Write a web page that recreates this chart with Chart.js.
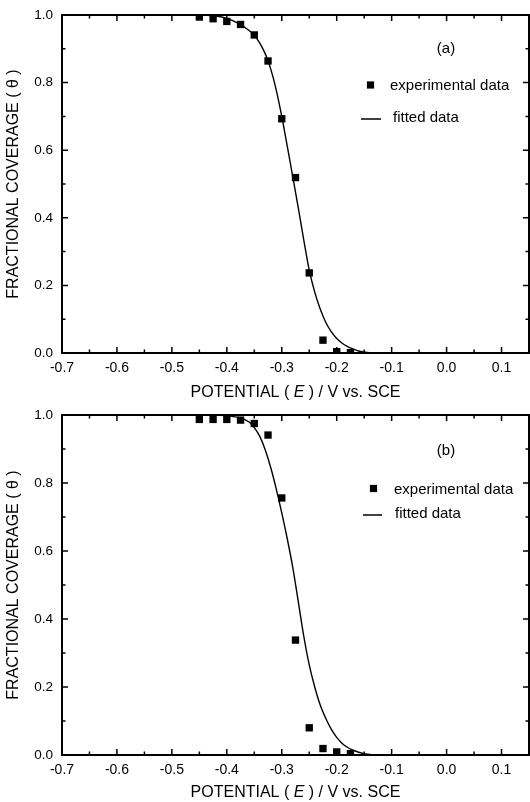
<!DOCTYPE html>
<html>
<head>
<meta charset="utf-8">
<script src="https://cdn.jsdelivr.net/npm/chart.js@4.4.1/dist/chart.umd.min.js"></script>
<style>
  html, body { margin: 0; padding: 0; background: #fff; }
  canvas { display: block; }
</style>
</head>
<body>
<canvas id="chartA" width="530" height="400"></canvas>
<canvas id="chartB" width="530" height="402"></canvas>
<script>
// axis ticks
const potentialTicks = [-0.7, -0.6, -0.5, -0.4, -0.3, -0.2, -0.1, 0.0, 0.1];
const potentialMinor = [-0.65, -0.55, -0.45, -0.35, -0.25, -0.15, -0.05, 0.05];
const coverageTicks = [0, 0.2, 0.4, 0.6, 0.8, 1.0];
const coverageMinor = [0.1, 0.3, 0.5, 0.7, 0.9];

// panel (a)
const aExpX = [-0.45, -0.425, -0.4, -0.375, -0.35, -0.325, -0.3, -0.275, -0.25, -0.225, -0.2, -0.175];
const aExpY = [0.994, 0.989, 0.981, 0.972, 0.941, 0.864, 0.693, 0.519, 0.237, 0.038, 0.004, 0.001];
const aFitX = [-0.70, -0.50, -0.44, -0.42, -0.40, -0.38, -0.36, -0.35, -0.34, -0.33, -0.32, -0.31, -0.30,
               -0.29, -0.28, -0.27, -0.26, -0.25, -0.24, -0.23, -0.22, -0.21, -0.20, -0.19, -0.18,
               -0.17, -0.16, -0.15, -0.14, -0.13, -0.10, 0.15];
const aFitY = [1.0, 1.0, 0.999, 0.997, 0.99, 0.976, 0.955, 0.94, 0.917, 0.885, 0.84, 0.778, 0.7,
               0.612, 0.522, 0.43, 0.335, 0.245, 0.18, 0.13, 0.091, 0.063, 0.043, 0.029, 0.019,
               0.012, 0.006, 0.003, 0.001, 0.0, 0.0, 0.0];

// panel (b)
const bExpX = [-0.45, -0.425, -0.4, -0.375, -0.35, -0.325, -0.3, -0.275, -0.25, -0.225, -0.2, -0.175];
const bExpY = [0.987, 0.987, 0.987, 0.985, 0.975, 0.941, 0.756, 0.338, 0.08, 0.019, 0.009, 0.004];
const bFitX = [-0.70, -0.50, -0.42, -0.40, -0.38, -0.36, -0.35, -0.34, -0.33, -0.32, -0.31, -0.30,
               -0.29, -0.28, -0.27, -0.26, -0.25, -0.24, -0.23, -0.22, -0.21, -0.20, -0.19, -0.18,
               -0.17, -0.16, -0.15, -0.14, -0.13, -0.10, 0.15];
const bFitY = [1.0, 1.0, 1.0, 0.998, 0.993, 0.98, 0.963, 0.937, 0.897, 0.845, 0.782, 0.712,
               0.636, 0.552, 0.452, 0.35, 0.265, 0.2, 0.147, 0.108, 0.076, 0.052, 0.034, 0.022,
               0.014, 0.008, 0.004, 0.002, 0.0, 0.0, 0.0];

const FONT = "'Liberation Sans', Arial, Helvetica, sans-serif";

const toPoints = (xs, ys) => xs.map((x, i) => ({ x: x, y: ys[i] }));

// frame, inward ticks on all 4 sides, x title with italic E, legend and panel label
const framePlugin = {
    id: 'frameBox',
    afterDraw(chart, args, o) {
        const { ctx, chartArea: a } = chart;
        const sx = chart.scales.x, sy = chart.scales.y;
        ctx.save();
        ctx.strokeStyle = '#000';
        ctx.fillStyle = '#000';
        ctx.lineWidth = 2;
        ctx.strokeRect(a.left, a.top, a.right - a.left, a.bottom - a.top);

        ctx.lineWidth = 1.5;
        ctx.beginPath();
        const tickX = (v, len) => {
            const p = sx.getPixelForValue(v);
            ctx.moveTo(p, a.bottom); ctx.lineTo(p, a.bottom - len);
            ctx.moveTo(p, a.top); ctx.lineTo(p, a.top + len);
        };
        const tickY = (v, len) => {
            const p = sy.getPixelForValue(v);
            ctx.moveTo(a.left, p); ctx.lineTo(a.left + len, p);
            ctx.moveTo(a.right, p); ctx.lineTo(a.right - len, p);
        };
        potentialTicks.forEach(v => tickX(v, 6));
        potentialMinor.forEach(v => tickX(v, 3.5));
        coverageTicks.forEach(v => tickY(v, 6));
        coverageMinor.forEach(v => tickY(v, 3.5));
        ctx.stroke();

        // x axis title, E in italics
        const parts = [['POTENTIAL ( ', ''], ['E', 'italic '], [' ) / V vs. SCE', '']];
        let total = 0;
        parts.forEach(p => { ctx.font = p[1] + '16px ' + FONT; total += ctx.measureText(p[0]).width; });
        let tx = (a.left + a.right) / 2 - total / 2;
        ctx.textBaseline = 'middle';
        ctx.textAlign = 'left';
        parts.forEach(p => {
            ctx.font = p[1] + '16px ' + FONT;
            ctx.fillText(p[0], tx, o.titleY);
            tx += ctx.measureText(p[0]).width;
        });

        // panel label
        ctx.font = '15px ' + FONT;
        ctx.textAlign = 'center';
        ctx.fillText(o.panel, o.panelX, o.panelY);

        // legend
        ctx.textAlign = 'left';
        const s = 3.6;
        ctx.fillRect(o.sqX - s, o.sqY - s, 2 * s, 2 * s);
        ctx.fillText('experimental data', o.sqTextX, o.sqY + 1);
        ctx.lineWidth = 1.5;
        ctx.beginPath();
        ctx.moveTo(o.lnX1, o.lnY); ctx.lineTo(o.lnX2, o.lnY);
        ctx.stroke();
        ctx.fillText('fitted data', o.lnTextX, o.lnY - 1);
        ctx.restore();
    }
};

function makeChart(id, expX, expY, fitX, fitY, layoutOpts) {
    const canvas = document.getElementById(id);
    return new Chart(canvas, {
        type: 'scatter',
        data: {
            datasets: [{
                label: 'experimental data',
                data: toPoints(expX, expY),
                pointStyle: 'rect',
                pointRadius: 5.2,
                pointHoverRadius: 5.2,
                backgroundColor: '#000',
                borderColor: '#000',
                borderWidth: 0
            }, {
                label: 'fitted data',
                data: toPoints(fitX, fitY),
                showLine: true,
                pointRadius: 0,
                borderColor: '#000',
                borderWidth: 1.4,
                cubicInterpolationMode: 'monotone',
                fill: false
            }]
        },
        options: {
            responsive: false,
            animation: false,
            events: [],
            // no auto padding, so the plot box lands exactly where the reference has it
            layout: { autoPadding: false, padding: { top: 15, right: 1, left: 0, bottom: 0 } },
            plugins: {
                legend: { display: false },
                tooltip: { enabled: false },
                frameBox: layoutOpts
            },
            scales: {
                x: {
                    type: 'linear',
                    min: -0.7,
                    max: 0.15,
                    afterBuildTicks: s => { s.ticks = potentialTicks.map(v => ({ value: v })); },
                    afterFit: s => {
                        s.height = layoutOpts.xHeight;
                        s.paddingLeft = 0;
                        s.paddingRight = 0;
                    },
                    grid: { display: false, drawTicks: false },
                    border: { display: false },
                    ticks: {
                        color: '#000',
                        padding: 7,
                        maxRotation: 0,
                        font: { family: FONT, size: 14 },
                        callback: v => (Math.abs(v) < 1e-9 ? '0.0' : v.toFixed(1))
                    }
                },
                y: {
                    type: 'linear',
                    min: 0,
                    max: 1,
                    afterBuildTicks: s => { s.ticks = coverageTicks.map(v => ({ value: v })); },
                    afterFit: s => {
                        s.width = 62;
                        s.paddingTop = 0;
                        s.paddingBottom = 0;
                    },
                    grid: { display: false, drawTicks: false },
                    border: { display: false },
                    ticks: {
                        color: '#000',
                        padding: 9,
                        font: { family: FONT, size: 13.5 },
                        callback: v => v.toFixed(1)
                    },
                    title: {
                        display: true,
                        text: 'FRACTIONAL COVERAGE ( θ )',
                        color: '#000',
                        padding: { top: 4, bottom: 0 },
                        font: { family: FONT, size: 16 }
                    }
                }
            }
        },
        plugins: [framePlugin]
    });
}

makeChart('chartA', aExpX, aExpY, aFitX, aFitY, {
    xHeight: 47, titleY: 393,
    panel: '(a)', panelX: 446, panelY: 49,
    sqX: 370.5, sqY: 85, sqTextX: 390,
    lnX1: 361, lnX2: 381, lnY: 119, lnTextX: 393
});
makeChart('chartB', bExpX, bExpY, bFitX, bFitY, {
    xHeight: 47, titleY: 393,
    panel: '(b)', panelX: 446, panelY: 51,
    sqX: 373.5, sqY: 88.5, sqTextX: 394,
    lnX1: 363, lnX2: 382, lnY: 115, lnTextX: 395
});
</script>
</body>
</html>
